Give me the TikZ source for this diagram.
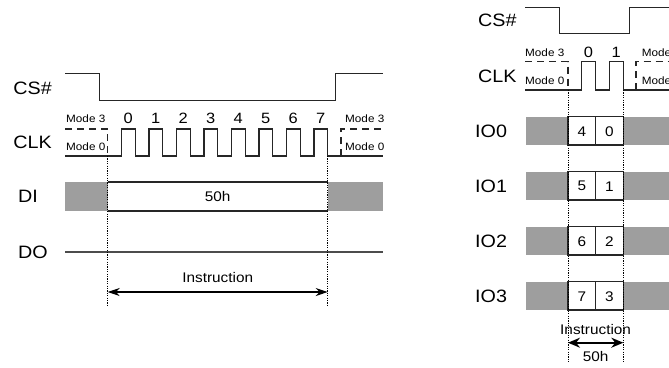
\documentclass[tikz,border=0pt]{standalone}
\usepackage{fontspec}
\setmainfont[FakeStretch=1.1]{Liberation Sans}
\usetikzlibrary{arrows.meta}
\definecolor{busygray}{RGB}{158,158,158}
\begin{document}
\begin{tikzpicture}[x=1bp,y=-1bp,
  sig/.style={line width=1.2bp, black!85, line join=miter},
  dashsig/.style={sig, dash pattern=on 7bp off 5bp},
  guide/.style={line width=1bp, black, dash pattern=on 1.2bp off 1.2bp},
  lbl/.style={font=\fontsize{18}{21}\selectfont, anchor=west, inner sep=0pt},
  num/.style={font=\fontsize{14}{16}\selectfont, inner sep=0pt},
  bitnum/.style={font=\fontsize{15}{17}\selectfont, inner sep=0pt},
  modetxt/.style={font=\fontsize{10.7}{13}\selectfont, anchor=west, inner sep=0pt},
  busy/.style={fill=busygray},
  span/.style={line width=1.2bp, {Stealth[length=12bp,width=8bp]}-{Stealth[length=12bp,width=8bp]}},
  spanb/.style={line width=1.6bp, {Stealth[length=12bp,width=10bp]}-{Stealth[length=12bp,width=10bp]}}
]
\useasboundingbox (0,0) rectangle (669,367);
\clip (0,0) rectangle (669,367);

% ================= LEFT DIAGRAM =================
\node[lbl] (lcs) at (13.3,88) {CS\#};
\node[lbl] (lclk) at (13.3,142.7) {CLK};
\node[lbl] (ldi) at (18,196.5) {DI};
\node[lbl] (ldo) at (18,252) {DO};

% CS#
\draw[sig] (65,73.3) -- (99.3,73.3) -- (99.3,100.7) -- (335.7,100.7) -- (335.7,73.3) -- (383,73.3);

% CLK
\draw[sig] (65,156) foreach \i in {0,...,7} {
  -- ({121.45+27.5*\i},156) -- ({121.45+27.5*\i},129)
  -- ({135.2+27.5*\i},129) -- ({135.2+27.5*\i},156) } -- (383,156);
\draw[dashsig] (65,129) -- (107.7,129) -- (107.7,156);
\draw[dashsig] (341,156) -- (341,129) -- (383,129);
\foreach \i in {0,...,7} {
  \node[bitnum] (lb\i) at ({128.3+27.5*\i},118) {\i};
}
\node[modetxt] (lm3a) at (66,119) {Mode 3};
\node[modetxt] (lm0a) at (66,147) {Mode 0};
\node[modetxt] (lm3b) at (345,119) {Mode 3};
\node[modetxt] (lm0b) at (345,147) {Mode 0};

% DI
\fill[busy] (65,182) rectangle (107.7,211);
\fill[busy] (327.7,182) rectangle (383,211);
\draw[sig] (107.7,182) -- (327.7,182);
\draw[sig] (107.7,211) -- (327.7,211);
\node[num] (l50h) at (217.7,196.5) {50h};

% DO
\draw[sig, black!70] (65,252) -- (383,252);

% guides and span
\coordinate (lg1t) at (107.7,156);
\coordinate (lg1b) at (107.7,305);
\coordinate (lg2t) at (327.7,156);
\coordinate (lg2b) at (327.7,305);
\draw[guide] (lg1t) -- (lg1b);
\draw[guide] (lg2t) -- (lg2b);
\coordinate (la1) at (107.7,292);
\coordinate (la2) at (327.7,292);
\draw[span] (la1) -- (la2);
\node[num] (linstr) at (217.7,278) {Instruction};

% ================= RIGHT DIAGRAM =================
\node[lbl] (rcs) at (478,20.5) {CS\#};
\node[lbl] (rclk) at (478,76.5) {CLK};

% CS#
\draw[sig] (525,7.3) -- (559.3,7.3) -- (559.3,33.3) -- (629.3,33.3) -- (629.3,7.3) -- (669,7.3);

% CLK
\draw[sig] (525,90) foreach \i in {0,1} {
  -- ({581.6+27.8*\i},90) -- ({581.6+27.8*\i},61.7)
  -- ({595.5+27.8*\i},61.7) -- ({595.5+27.8*\i},90) } -- (669,90);
\draw[dashsig] (525,61.7) -- (568,61.7) -- (568,90);
\draw[dashsig] (636,90) -- (636,61.7) -- (669,61.7);
\node[bitnum] (rb0) at (588.5,52.5) {0};
\node[bitnum] (rb1) at (616.3,52.5) {1};
\node[modetxt] (rm3a) at (525,53) {Mode 3};
\node[modetxt] (rm0a) at (525,81) {Mode 0};
\node[modetxt] (rm3b) at (641.7,53) {Mode 3};
\node[modetxt] (rm0b) at (641.7,81) {Mode 0};

% IO rows
\foreach \r/\top/\hi/\lo in {0/116.7/4/0, 1/171.7/5/1, 2/226.7/6/2, 3/281.7/7/3} {
  \node[lbl] (rio\r) at (475,\top+14.2) {IO\r};
  \fill[busy] (526,\top) rectangle (568,\top+28.3);
  \fill[busy] (623.3,\top) rectangle (669,\top+28.3);
  \draw[sig] (568,\top) rectangle (623.3,\top+28.3);
  \draw[sig] (595.5,\top) -- (595.5,\top+28.3);
  \node[num] (rhi\r) at (581.8,\top+14.5) {\hi};
  \node[num] (rlo\r) at (609.4,\top+14.5) {\lo};
}

% guides and span
\coordinate (rg1t) at (568,90);
\coordinate (rg1b) at (568,362);
\coordinate (rg2t) at (623.3,90);
\coordinate (rg2b) at (623.3,362);
\draw[guide] (rg1t) -- (rg1b);
\draw[guide] (rg2t) -- (rg2b);
\coordinate (ra1) at (568,342.7);
\coordinate (ra2) at (623.3,342.7);
\draw[spanb] (ra1) -- (ra2);
\node[num] (rinstr) at (595.6,330) {Instruction};
\node[num] (r50h) at (595.6,357) {50h};
\end{tikzpicture}
\end{document}
